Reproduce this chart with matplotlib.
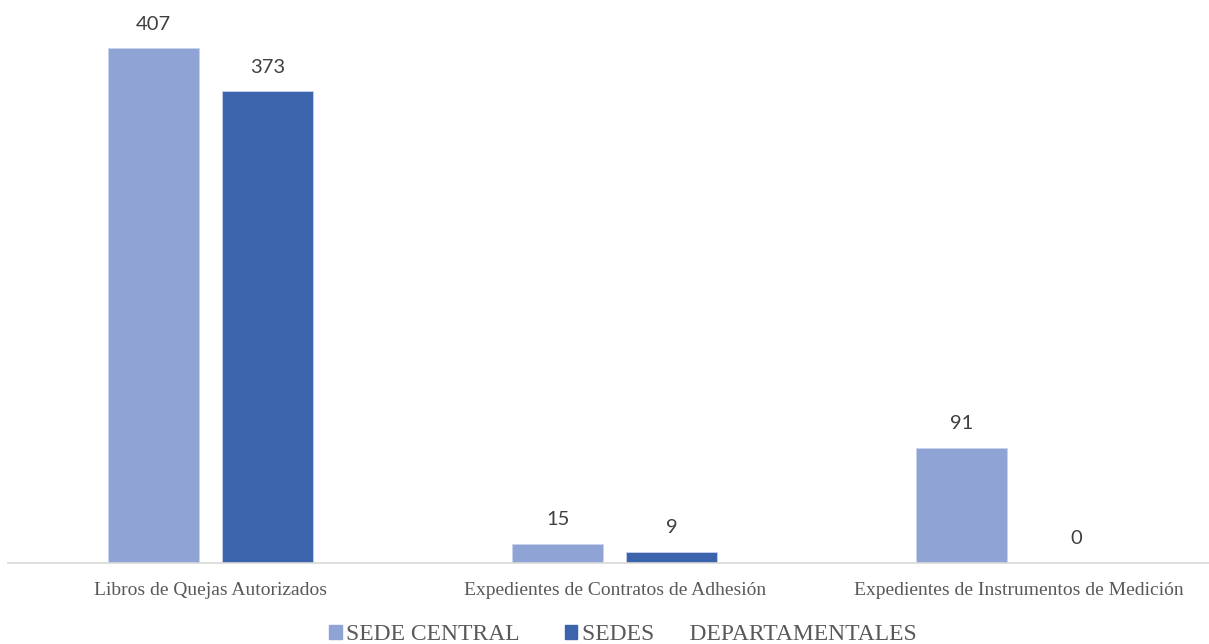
import numpy as np
import matplotlib.pyplot as plt
from matplotlib.patches import Patch

categories = ["Libros de Quejas Autorizados",
              "Expedientes de Contratos de Adhesión",
              "Expedientes de Instrumentos de Medición"]
series_names = ["SEDE CENTRAL", "SEDES      DEPARTAMENTALES"]
sede_central = [407, 15, 91]
sedes_dep = [373, 9, 0]

colors = ["#8FA3D4", "#3B64AD"]

W, H = 1209, 644
fig = plt.figure(figsize=(W / 100, H / 100), dpi=100)
ax = fig.add_axes([8 / W, 81 / H, (W - 8) / W, 563 / H])

x = np.arange(len(categories))
bw = 0.225
off = 0.141
b1 = ax.bar(x - off, sede_central, bw, color=colors[0], edgecolor="#C9D3EC", linewidth=0.6)
b2 = ax.bar(x + off, sedes_dep, bw, color=colors[1], edgecolor="#C9D3EC", linewidth=0.6)

for bars in (b1, b2):
    for r in bars:
        ax.text(r.get_x() + r.get_width() / 2, r.get_height() + 19, f"{int(r.get_height())}",
                ha="center", va="center", fontsize=14.5, color="#404040", family="Lato")

ax.set_xlim(-0.5, 2.47)
ax.set_ylim(0, 445)
for s in ["top", "right", "left"]:
    ax.spines[s].set_visible(False)
ax.spines["bottom"].set_color("#D9D9D9")
ax.spines["bottom"].set_linewidth(1.2)
ax.set_yticks([])
ax.set_xticks(x)
ax.set_xticklabels(categories, family="Liberation Serif", fontsize=14, color="#595959")
ax.tick_params(axis="x", length=0, pad=14)

handles = [Patch(color=c) for c in colors]
fig.legend(handles, series_names, loc="center", bbox_to_anchor=(623 / W, 1 - 635 / H),
           ncol=2, frameon=False, handlelength=0.52, handleheight=0.52, handletextpad=0.2,
           columnspacing=1.9, prop={"family": "Liberation Serif", "size": 17},
           labelcolor="#595959")

fig.savefig("out.png", dpi=100)
